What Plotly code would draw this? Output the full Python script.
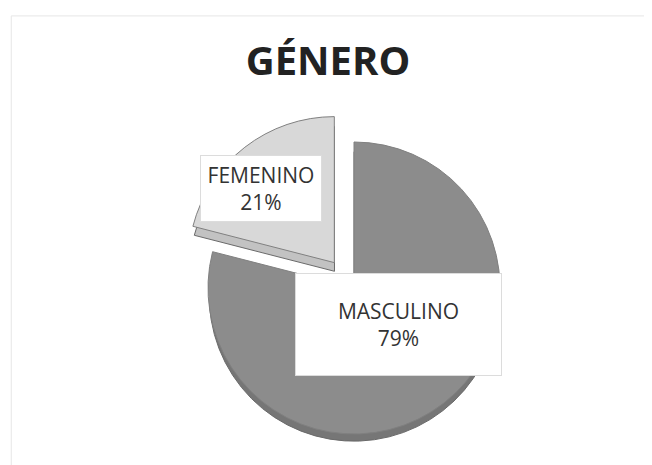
import plotly.graph_objects as go

labels = ["MASCULINO", "FEMENINO"]
values = [79, 21]
percent_text = ["79%", "21%"]
colors_top = ["#8c8c8c", "#d8d8d8"]
colors_side = ["#767676", "#c2c2c2"]
pulls = [0, 0.22]

W, H = 652, 465
cx, cy = 346, 280
R = 146 * (1 + max(pulls))

def dom(dy):
    y0 = max(0.0, 1 - (cy + dy + R) / H)
    y1 = min(1.0, 1 - (cy + dy - R) / H)
    return dict(x=[(cx - R) / W, (cx + R) / W], y=[y0, y1])

fig = go.Figure()
# side (3D depth) layer
fig.add_trace(go.Pie(labels=labels, values=values, sort=False, direction="clockwise",
                     rotation=0, pull=pulls, domain=dom(10), textinfo="none",
                     hoverinfo="skip", showlegend=False,
                     marker=dict(colors=colors_side, line=dict(color="#6a6a6a", width=1))))
# top layer
fig.add_trace(go.Pie(labels=labels, values=values, sort=False, direction="clockwise",
                     rotation=0, pull=pulls, domain=dom(0), textinfo="none",
                     showlegend=False,
                     marker=dict(colors=colors_top, line=dict(color="#808080", width=1))))

label_pos = [(390, 316), (253, 181)]
box_size = [(205, 101), (120, 65)]
for lab, pct, (x, y), (bw, bh) in zip(labels, percent_text, label_pos, box_size):
    fig.add_annotation(x=x / W, y=1 - y / H, xref="paper", yref="paper",
                       xanchor="center", yanchor="middle",
                       text=f"{lab}<br>{pct}", showarrow=False,
                       width=bw, height=bh, borderpad=0,
                       font=dict(family="Open Sans, Liberation Sans, sans-serif", size=21, color="#333333"),
                       bgcolor="white", bordercolor="#dcdcdc", borderwidth=1,
                       align="center", valign="middle")

fig.add_shape(type="rect", xref="paper", yref="paper", x0=0.005, y0=0.005, x1=0.983, y1=0.983,
              line=dict(color="#e6e6e6", width=1))

fig.update_layout(
    width=W, height=H,
    margin=dict(l=0, r=0, t=0, b=0),
    paper_bgcolor="white", plot_bgcolor="white",
    title=dict(text="<b>GÉNERO</b>", x=320 / W, xanchor="center", y=1 - 53 / H, yanchor="middle",
               font=dict(family="Open Sans, Liberation Sans, sans-serif", size=40, color="#222222")),
)

fig.write_html("out.html")
